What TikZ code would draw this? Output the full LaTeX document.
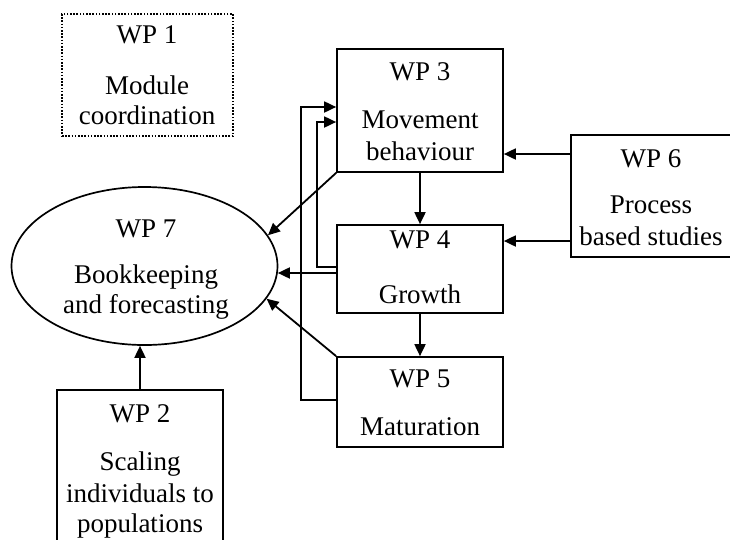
\documentclass[tikz,border=0pt]{standalone}
\usepackage{fontspec}
\setmainfont{Liberation Serif}
\usetikzlibrary{arrows.meta,shapes.geometric}
\begin{document}
\begin{tikzpicture}[x=1pt,y=-1pt,
  lbl/.style={anchor=base,inner sep=0pt,font=\fontsize{27}{30}\selectfont},
  wpbox/.style={draw,line width=1.7pt,rectangle,inner sep=0pt},
  conn/.style={line width=1.8pt},
  arr/.style={conn,-{Triangle[length=12pt,width=11pt]}},
  corner/.style={line join=miter}]
\useasboundingbox (0,0) rectangle (730,539);
\clip (0,0) rectangle (730,539);

% work package boxes (positions by their corners)
\node[wpbox,dash pattern=on 1.6pt off 1.6pt,minimum width=171pt,minimum height=122pt] (wp1) at (147.5,75) {};
\node[wpbox,minimum width=166pt,minimum height=123pt] (wp3) at (420,110.5) {};
\node[wpbox,minimum width=166pt,minimum height=88pt] (wp4) at (420,269) {};
\node[wpbox,minimum width=166pt,minimum height=90pt] (wp5) at (420,402) {};
\node[wpbox,minimum width=160pt,minimum height=122pt] (wp6) at (651,196) {};
\node[wpbox,minimum width=166pt,minimum height=160pt] (wp2) at (140,470) {};
\node[draw,line width=1.7pt,ellipse,minimum width=266pt,minimum height=158pt,inner sep=0pt] (wp7) at (144.5,266) {};

% box texts, one node per printed line
\foreach \yy/\tx [count=\i] in {43/WP 1, 94/Module, 124/coordination}
  \node[lbl] (t1-\i) at (147,\yy) {\tx};
\foreach \yy/\tx [count=\i] in {80/WP 3, 128/Movement, 160/behaviour}
  \node[lbl] (t3-\i) at (420,\yy) {\tx};
\foreach \yy/\tx [count=\i] in {248/WP 4, 303/Growth}
  \node[lbl] (t4-\i) at (420,\yy) {\tx};
\foreach \yy/\tx [count=\i] in {387/WP 5, 435/Maturation}
  \node[lbl] (t5-\i) at (420,\yy) {\tx};
\foreach \yy/\tx [count=\i] in {167/WP 6, 213/Process, 245/based studies}
  \node[lbl] (t6-\i) at (651,\yy) {\tx};
\foreach \yy/\tx [count=\i] in {237/WP 7, 283/Bookkeeping, 313/and forecasting}
  \node[lbl] (t7-\i) at (146,\yy) {\tx};
\foreach \yy/\tx [count=\i] in {422/WP 2, 470/Scaling, 502/individuals to, 532/populations}
  \node[lbl] (t2-\i) at (140,\yy) {\tx};

% rows and columns used by the connectors
\coordinate (r6a) at (0,154);
\coordinate (r6b) at (0,241);
\coordinate (o1) at (301,400);
\coordinate (o2) at (301,107);
\coordinate (i1) at (317,267);
\coordinate (i2) at (317,122);

% flows into the bookkeeping ellipse
\draw[arr] (wp3.south west) -- (wp7.14);
\draw[arr] (wp4.west |- wp7.-3.5) -- (wp7.-3.5);
\draw[arr] (wp5.north west) -- (wp7.-15);
\draw[arr] (wp2.north) -- (wp2.north |- wp7.south);

% chain 3 -> 4 -> 5
\draw[arr] (wp3.south) -- (wp4.north);
\draw[arr] (wp4.south) -- (wp5.north);

% process studies feeding 3 and 4
\draw[arr] (wp6.west |- r6a) -- (wp3.east |- r6a);
\draw[arr] (wp6.west |- r6b) -- (wp4.east |- r6b);

% feedback loops back to movement behaviour
\draw[arr,corner] (wp5.west |- o1) -- (o1) -- (o2) -- (wp3.west |- o2);
\draw[arr,corner] (wp4.west |- i1) -- (i1) -- (i2) -- (wp3.west |- i2);
\end{tikzpicture}
\end{document}
